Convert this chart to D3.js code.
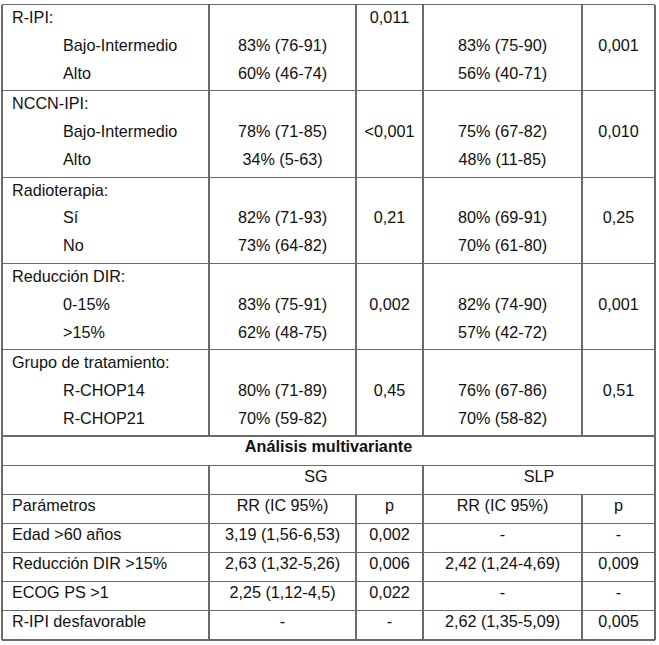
<!DOCTYPE html>
<html>
<head>
<meta charset="utf-8">
<script src="https://cdn.jsdelivr.net/npm/d3@7"></script>
<style>
  html, body { margin: 0; padding: 0; background: #fff; }
  svg { display: block; }
  text { font-family: "Liberation Sans", Arial, sans-serif; fill: #111; }
</style>
</head>
<body>
<div id="chart"></div>
<script>
// ---- Data (univariate) ----
const groups = ["R-IPI:", "NCCN-IPI:", "Radioterapia:", "Reducción DIR:", "Grupo de tratamiento:"];
const subgroups = [
  ["Bajo-Intermedio", "Alto"],
  ["Bajo-Intermedio", "Alto"],
  ["Sí", "No"],
  ["0-15%", ">15%"],
  ["R-CHOP14", "R-CHOP21"]
];
const sgValues = [
  ["83% (76-91)", "60% (46-74)"],
  ["78% (71-85)", "34% (5-63)"],
  ["82% (71-93)", "73% (64-82)"],
  ["83% (75-91)", "62% (48-75)"],
  ["80% (71-89)", "70% (59-82)"]
];
const sgP = ["0,011", "<0,001", "0,21", "0,002", "0,45"];
const slpValues = [
  ["83% (75-90)", "56% (40-71)"],
  ["75% (67-82)", "48% (11-85)"],
  ["80% (69-91)", "70% (61-80)"],
  ["82% (74-90)", "57% (42-72)"],
  ["76% (67-86)", "70% (58-82)"]
];
const slpP = ["0,001", "0,010", "0,25", "0,001", "0,51"];

// ---- Data (multivariate) ----
const multiTitle = "Análisis multivariante";
const endpoints = ["SG", "SLP"];
const headers = ["Parámetros", "RR (IC 95%)", "p", "RR (IC 95%)", "p"];
const parameters = ["Edad >60 años", "Reducción DIR >15%", "ECOG PS >1", "R-IPI desfavorable"];
const sgRR = ["3,19 (1,56-6,53)", "2,63 (1,32-5,26)", "2,25 (1,12-4,5)", "-"];
const sgRRp = ["0,002", "0,006", "0,022", "-"];
const slpRR = ["-", "2,42 (1,24-4,69)", "-", "2,62 (1,35-5,09)"];
const slpRRp = ["-", "0,009", "-", "0,005"];

// ---- Layout ----
const W = 659, H = 645;
const FS = 16.2;
const colEdges = [2, 209, 356, 423, 582, 655];
const colMid = i => (colEdges[i] + colEdges[i + 1]) / 2;
const lineColor = "#6a6a6a";

const ySec = d3.scaleLinear().domain([0, groups.length]).range([4.5, 436]);
const multiRows = 7; // title, endpoints, headers, 4 params
const yMulti = d3.scaleLinear().domain([0, multiRows]).range([436, 640]);
const lineY = (s, i) => ySec(s) + 18.5 + 27.8 * i;

const svg = d3.select("#chart").append("svg")
  .attr("width", W).attr("height", H);
svg.append("rect").attr("width", W).attr("height", H).attr("fill", "#fff");

const gLines = svg.append("g").attr("stroke", lineColor).attr("stroke-width", 1.1).attr("shape-rendering", "crispEdges");
const gText = svg.append("g").attr("font-size", FS);

function hline(y, x0 = colEdges[0], x1 = colEdges[5]) {
  gLines.append("line").attr("x1", x0).attr("x2", x1).attr("y1", y).attr("y2", y);
}
function vline(x, y0, y1) {
  gLines.append("line").attr("x1", x).attr("x2", x).attr("y1", y0).attr("y2", y1);
}
function txt(x, y, s, anchor = "start", weight = "normal") {
  gText.append("text").attr("x", x).attr("y", y).attr("text-anchor", anchor)
    .attr("font-weight", weight).text(s);
}

// Univariate sections
groups.forEach((g, s) => {
  hline(ySec(s));
  txt(12, lineY(s, 0), g);
  subgroups[s].forEach((sub, i) => {
    txt(63, lineY(s, i + 1), sub);
    txt(colMid(1), lineY(s, i + 1), sgValues[s][i], "middle");
    txt(colMid(3), lineY(s, i + 1), slpValues[s][i], "middle");
  });
  const pLine = s === 0 ? 0 : 1;
  txt(colMid(2), lineY(s, pLine), sgP[s], "middle");
  txt(colMid(4), lineY(s, 1), slpP[s], "middle");
});
[1, 2, 3, 4].forEach(c => vline(colEdges[c], ySec(0), ySec(groups.length)));

// Multivariate
for (let r = 0; r <= multiRows; r++) hline(yMulti(r));
const base = r => yMulti(r) + 16.5;
txt((colEdges[0] + colEdges[5]) / 2, base(0) - 0.5, multiTitle, "middle", "bold");
// endpoints row (merged cells)
txt((colEdges[1] + colEdges[3]) / 2, base(1), endpoints[0], "middle");
txt((colEdges[3] + colEdges[5]) / 2, base(1), endpoints[1], "middle");
vline(colEdges[1], yMulti(1), yMulti(multiRows));
vline(colEdges[3], yMulti(1), yMulti(multiRows));
vline(colEdges[2], yMulti(2), yMulti(multiRows));
vline(colEdges[4], yMulti(2), yMulti(multiRows));
// headers
txt(12, base(2), headers[0]);
[1, 2, 3, 4].forEach(c => txt(colMid(c), base(2), headers[c], "middle"));
parameters.forEach((p, i) => {
  const r = 3 + i;
  txt(12, base(r), p);
  txt(colMid(1), base(r), sgRR[i], "middle");
  txt(colMid(2), base(r), sgRRp[i], "middle");
  txt(colMid(3), base(r), slpRR[i], "middle");
  txt(colMid(4), base(r), slpRRp[i], "middle");
});

// outer borders
vline(colEdges[0], ySec(0), yMulti(multiRows));
vline(colEdges[5], ySec(0), yMulti(multiRows));
</script>
</body>
</html>
